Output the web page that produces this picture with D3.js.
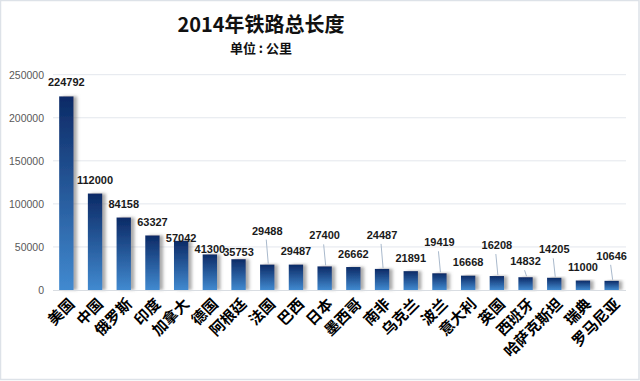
<!DOCTYPE html>
<html><head><meta charset="utf-8">
<script src="https://cdn.jsdelivr.net/npm/d3@7/dist/d3.min.js"></script>
<style>body{margin:0;background:#fff}svg{display:block}</style>
</head><body>
<script>
const categories = ["美国","中国","俄罗斯","印度","加拿大","德国","阿根廷","法国","巴西","日本","墨西哥","南非","乌克兰","波兰","意大利","英国","西班牙","哈萨克斯坦","瑞典","罗马尼亚"];
const values = [224792,112000,84158,63327,57042,41300,35753,29488,29487,27400,26662,24487,21891,19419,16668,16208,14832,14205,11000,10646];
const yTicks = [0,50000,100000,150000,200000,250000];
// label lift above bar top (px), and whether a leader line is drawn
const labelLift = [14,14,13.5,13.5,3,5.5,7,34,13.6,31,13,34,13,31,13.3,31,16,28.5,13,25];
const hasLeader = [0,0,0,0,0,0,0,1,0,1,0,1,0,1,0,1,1,1,0,1];

const W=640,H=381;
const svg=d3.select("body").append("svg").attr("width",W).attr("height",H);
const defs=svg.append("defs");
const grad=defs.append("linearGradient").attr("id","bg").attr("x1",0).attr("y1",0).attr("x2",0).attr("y2",1);
grad.append("stop").attr("offset","0%").attr("stop-color","#0c2a66");
grad.append("stop").attr("offset","100%").attr("stop-color","#418ad0");
const f=defs.append("filter").attr("id","sh").attr("x","-50%").attr("y","-10%").attr("width","200%").attr("height","120%");
f.append("feDropShadow").attr("dx",3.5).attr("dy",0).attr("stdDeviation",1.6).attr("flood-color","#666").attr("flood-opacity",0.55);

svg.append("rect").attr("x",0.5).attr("y",0.5).attr("width",W-1.5).attr("height",H-2).attr("fill","#fff").attr("stroke","#dde2e8").attr("stroke-width",1.5);

svg.append("text").attr("x",261).attr("y",32).attr("text-anchor","middle")
  .style("font-family","'Noto Sans CJK SC'").style("font-weight","bold").style("font-size","20px").attr("fill","#111").text("2014年铁路总长度");
svg.append("text").attr("x",261).attr("y",53).attr("text-anchor","middle")
  .style("font-family","'Noto Sans CJK SC'").style("font-weight","bold").style("font-size","13px").attr("fill","#111").text("单位 : 公里");

const x=d3.scaleBand().domain(categories).range([52,626]).paddingInner(0.5).paddingOuter(0.25);
const y=d3.scaleLinear().domain([0,250000]).range([290,74.7]);

const grid=svg.append("g");
grid.selectAll("line").data(yTicks.slice(1)).join("line")
  .attr("x1",53).attr("x2",626).attr("y1",d=>y(d)).attr("y2",d=>y(d))
  .attr("stroke","#e3e7ed").attr("stroke-width",1);

const yAxis=svg.append("g").attr("transform","translate(53,0)")
  .call(d3.axisLeft(y).tickValues(yTicks).tickSize(0).tickPadding(9).tickFormat(d3.format("d")));
yAxis.select(".domain").remove();
yAxis.selectAll("text").attr("fill","#595959").style("font-family","'Liberation Sans'").style("font-size","10.5px");

svg.append("g").selectAll("rect").data(values).join("rect")
  .attr("x",(d,i)=>x(categories[i])).attr("width",x.bandwidth())
  .attr("y",d=>y(d)).attr("height",d=>y(0)-y(d))
  .attr("fill","url(#bg)").attr("filter","url(#sh)");

svg.append("line").attr("x1",53).attr("x2",626).attr("y1",290.5).attr("y2",290.5).attr("stroke","#d9dde2");

const cx=i=>x(categories[i])+x.bandwidth()/2;
svg.append("g").selectAll("line").data(values.map((v,i)=>i).filter(i=>hasLeader[i])).join("line")
  .attr("x1",i=>cx(i)-1).attr("y1",i=>y(values[i])-labelLift[i]+9)
  .attr("x2",i=>cx(i)+1).attr("y2",i=>y(values[i])-1)
  .attr("stroke","#a9b9cc").attr("stroke-width",1);

svg.append("g").selectAll("text").data(values).join("text")
  .attr("x",(d,i)=>cx(i)).attr("y",(d,i)=>y(d)-labelLift[i]).attr("dy","0.36em")
  .attr("text-anchor","middle").style("font-family","'Liberation Sans'").style("font-weight","bold").style("font-size","11px")
  .attr("fill","#1a1a1a").text(d=>d);

const xAxis=svg.append("g").attr("transform","translate(0,290)")
  .call(d3.axisBottom(x).tickSize(0).tickPadding(0));
xAxis.select(".domain").remove();
xAxis.selectAll("text")
  .attr("text-anchor","end").attr("dy",null).attr("y",null)
  .attr("transform",d=>`translate(${x.bandwidth()/2+2},15) rotate(-45)`)
  .attr("fill","#000").style("font-family","'Noto Sans CJK SC'").style("font-weight","bold").style("font-size","15px");
</script>
</body></html>
